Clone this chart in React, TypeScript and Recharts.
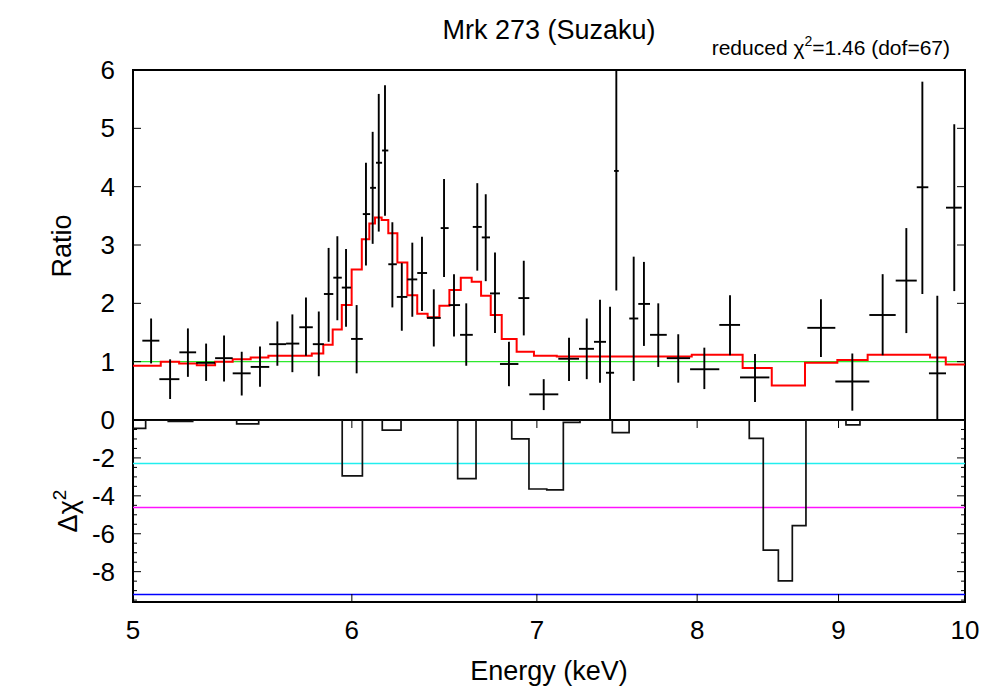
import React from 'react';
import { ComposedChart, Line, Scatter, ErrorBar, XAxis, YAxis, ReferenceLine, ReferenceArea } from 'recharts';

const FONT = '"Liberation Sans", Arial, Helvetica, sans-serif';

// spectrum ratio points: bin centre, bin edges, ratio and its 1-sigma range
const energy = [5.076, 5.157, 5.234, 5.314, 5.394, 5.474, 5.558, 5.639, 5.710, 5.775, 5.837, 5.885, 5.928, 5.971, 6.024, 6.071, 6.105, 6.136, 6.168, 6.206, 6.255, 6.310, 6.361, 6.424, 6.479, 6.533, 6.600, 6.661, 6.708, 6.760, 6.839, 6.924, 7.040, 7.190, 7.297, 7.378, 7.440, 7.479, 7.588, 7.653, 7.745, 7.875, 8.048, 8.222, 8.395, 8.869, 9.104, 9.337, 9.523, 9.651, 9.772, 9.911];
const energyLo = [5.039, 5.111, 5.197, 5.270, 5.354, 5.433, 5.515, 5.601, 5.680, 5.743, 5.808, 5.862, 5.908, 5.950, 5.996, 6.055, 6.092, 6.122, 6.153, 6.185, 6.229, 6.284, 6.336, 6.388, 6.461, 6.504, 6.566, 6.636, 6.686, 6.732, 6.788, 6.893, 6.956, 7.126, 7.250, 7.341, 7.415, 7.465, 7.560, 7.617, 7.692, 7.800, 7.953, 8.149, 8.291, 8.769, 8.976, 9.234, 9.439, 9.606, 9.704, 9.843];
const energyHi = [5.111, 5.197, 5.270, 5.354, 5.433, 5.515, 5.601, 5.680, 5.743, 5.808, 5.862, 5.908, 5.950, 5.996, 6.055, 6.092, 6.122, 6.153, 6.185, 6.229, 6.284, 6.336, 6.388, 6.461, 6.504, 6.566, 6.636, 6.686, 6.732, 6.788, 6.893, 6.956, 7.126, 7.250, 7.341, 7.415, 7.465, 7.494, 7.617, 7.692, 7.800, 7.953, 8.149, 8.291, 8.496, 8.976, 9.234, 9.439, 9.606, 9.699, 9.843, 9.973];
const ratio = [1.36, 0.70, 1.16, 0.98, 1.06, 0.80, 0.91, 1.30, 1.31, 1.59, 1.30, 2.16, 2.44, 2.27, 1.39, 3.53, 3.98, 4.41, 4.62, 2.67, 2.11, 2.41, 2.52, 1.75, 3.29, 1.97, 1.46, 3.31, 3.13, 2.17, 0.96, 2.09, 0.44, 1.05, 1.22, 1.34, 0.81, 4.27, 1.74, 1.99, 1.46, 1.06, 0.87, 1.63, 0.73, 1.58, 0.66, 1.80, 2.39, 3.99, 0.80, 3.64];
const ratioLo = [0.97, 0.36, 0.74, 0.67, 0.66, 0.42, 0.57, 0.93, 0.82, 1.10, 0.75, 1.34, 1.71, 1.60, 0.80, 2.65, 3.02, 3.23, 3.50, 1.93, 1.53, 1.77, 1.87, 1.26, 2.45, 1.43, 0.93, 2.56, 2.38, 1.49, 0.58, 1.45, 0.17, 0.67, 0.70, 0.64, 0.00, 2.22, 0.67, 1.27, 0.91, 0.64, 0.53, 1.11, 0.31, 1.08, 0.16, 1.11, 1.49, 2.16, 0.00, 2.21];
const ratioHi = [1.74, 1.04, 1.57, 1.31, 1.45, 1.17, 1.26, 1.69, 1.81, 2.10, 1.86, 2.95, 3.15, 2.93, 1.97, 4.41, 4.94, 5.59, 5.74, 3.39, 2.69, 3.04, 3.14, 2.24, 4.13, 2.50, 2.00, 4.06, 3.87, 2.87, 1.34, 2.73, 0.70, 1.41, 1.74, 2.06, 1.94, 6.00, 2.80, 2.71, 2.00, 1.47, 1.24, 2.14, 1.13, 2.07, 1.14, 2.50, 3.29, 5.80, 2.13, 5.07];

// model ratio, histogram steps (bin start energy, value)
const modelEdge = [5.000, 5.117, 5.196, 5.273, 5.354, 5.433, 5.515, 5.597, 5.803, 5.859, 5.905, 5.950, 5.999, 6.050, 6.088, 6.117, 6.151, 6.185, 6.232, 6.284, 6.336, 6.391, 6.454, 6.508, 6.570, 6.630, 6.682, 6.736, 6.798, 6.883, 6.983, 7.117, 7.964, 8.309, 8.513, 8.752, 8.991, 9.221, 9.713, 9.841];
const modelRatio = [0.93, 1.00, 0.97, 0.94, 1.00, 1.04, 1.07, 1.10, 1.14, 1.29, 1.55, 1.97, 2.58, 3.10, 3.37, 3.47, 3.43, 3.20, 2.70, 2.14, 1.82, 1.76, 1.96, 2.23, 2.44, 2.37, 2.13, 1.80, 1.39, 1.17, 1.10, 1.09, 1.12, 0.89, 0.59, 0.98, 1.03, 1.12, 1.07, 0.95];

// delta chi^2 histogram steps
const chiEdge = [5.000, 5.053, 5.149, 5.255, 5.451, 5.552, 5.952, 6.053, 6.154, 6.251, 6.553, 6.654, 6.855, 6.954, 7.058, 7.156, 7.256, 7.454, 7.559, 8.355, 8.453, 8.560, 8.660, 8.759, 9.056, 9.162];
const chiValue = [-0.44, 0, -0.08, 0, -0.2, 0, -2.95, 0, -0.53, 0, -3.09, 0, -1.0, -3.64, -3.69, -0.12, 0, -0.67, 0, -0.97, -6.86, -8.49, -5.57, 0, -0.26, 0];

const chiLevels = [-2.3, -4.61, -9.21];
const chiLevelColors = ['#22eeee', '#ff11ff', '#0000ff'];

const energyTicks = [5, 6, 7, 8, 9, 10];
const ratioTicks = [0, 1, 2, 3, 4, 5, 6];
const chiTicks = [-9.5, -9, -8.5, -8, -7.5, -7, -6.5, -6, -5.5, -5, -4.5, -4, -3.5, -3, -2.5, -2, -1.5, -1, -0.5, 0];

const points = energy.map((e, i) => ({
  x: e,
  y: ratio[i],
  ex: [e - energyLo[i], energyHi[i] - e],
  ey: [ratio[i] - ratioLo[i], ratioHi[i] - ratio[i]],
}));
const model = modelEdge.map((e, i) => ({ x: e, y: modelRatio[i] }));
model.push({ x: 10, y: modelRatio[modelRatio.length - 1] });
const chi = chiEdge.map((e, i) => ({ x: e, y: chiValue[i] }));
chi.push({ x: 10, y: 0 });

// frame geometry
const PL = 133;
const PR = 965;
const TOP = 70;
const MID = 420;
const BOT = 602;
const YW = 60;
const TICK_FS = 26;
const LABEL_FS = 27;

const TopXTick = (p: any) => {
  const { x, payload } = p;
  if (payload.value === 5 || payload.value === 10) return <g />;
  return (
    <g stroke="#000" strokeWidth={1}>
      <line x1={x} x2={x} y1={MID} y2={MID - 8} />
      <line x1={x} x2={x} y1={TOP} y2={TOP + 8} />
    </g>
  );
};

const BottomXTick = (p: any) => {
  const { x, payload } = p;
  const edge = payload.value === 5 || payload.value === 10;
  return (
    <g>
      {!edge && (
        <g stroke="#000" strokeWidth={1}>
          <line x1={x} x2={x} y1={MID} y2={MID + 8} />
          <line x1={x} x2={x} y1={BOT} y2={BOT - 8} />
        </g>
      )}
      <text x={x} y={BOT + 37} textAnchor="middle" fontSize={TICK_FS} fontFamily={FONT} fill="#000">
        {payload.value}
      </text>
    </g>
  );
};

const RatioTick = (p: any) => {
  const { y, payload } = p;
  const v = payload.value;
  if (v === 0) return <g />;
  const inner = v !== 6;
  return (
    <g>
      {inner && <line x1={PL} x2={PL + 8} y1={y} y2={y} stroke="#000" strokeWidth={1} />}
      {inner && <line x1={PR} x2={PR - 8} y1={y} y2={y} stroke="#000" strokeWidth={1} />}
      <text x={PL - 18} y={y + 9} textAnchor="end" fontSize={TICK_FS} fontFamily={FONT} fill="#000">{v}</text>
    </g>
  );
};

const ChiTick = (p: any) => {
  const { y, payload } = p;
  const v = payload.value;
  const major = v % 2 === 0;
  const len = major ? 8 : 4;
  return (
    <g>
      {v !== 0 && <line x1={PL} x2={PL + len} y1={y} y2={y} stroke="#000" strokeWidth={1} />}
      {v !== 0 && <line x1={PR} x2={PR - len} y1={y} y2={y} stroke="#000" strokeWidth={1} />}
      {major && (
        <text x={PL - 18} y={y + 9} textAnchor="end" fontSize={TICK_FS} fontFamily={FONT} fill="#000">{v}</text>
      )}
    </g>
  );
};

const NoPoint = () => <g />;

const App: React.FC = () => {
  return (
    <div style={{ position: 'absolute', left: 0, top: 0, width: 1000, height: 700, background: '#fff' }}>
      <div style={{ position: 'absolute', left: 0, top: 0 }}>
        <ComposedChart width={1000} height={MID} margin={{ top: TOP, right: 1000 - PR, bottom: 0, left: PL - YW }}>
          <XAxis
            dataKey="x"
            type="number"
            scale="log"
            domain={[5, 10]}
            allowDataOverflow
            ticks={energyTicks}
            interval={0}
            height={0}
            axisLine={false}
            tickLine={false}
            tickSize={0}
            tickMargin={0}
            tick={<TopXTick />}
          />
          <YAxis
            dataKey="y"
            type="number"
            domain={[0, 6]}
            allowDataOverflow
            ticks={ratioTicks}
            interval={0}
            width={YW}
            axisLine={false}
            tickLine={false}
            tickSize={0}
            tickMargin={0}
            tick={<RatioTick />}
          />
          <ReferenceLine y={1} stroke="#2ee82e" strokeWidth={1.2} />
          <Line
            data={model}
            dataKey="y"
            type="stepAfter"
            stroke="#ff0000"
            strokeWidth={2}
            dot={false}
            activeDot={false}
            isAnimationActive={false}
          />
          <Scatter data={points} dataKey="y" shape={<NoPoint />} isAnimationActive={false}>
            <ErrorBar dataKey="ex" direction="x" width={0} stroke="#000" strokeWidth={1.9} />
            <ErrorBar dataKey="ey" direction="y" width={0} stroke="#000" strokeWidth={1.9} />
          </Scatter>
          <ReferenceArea x1={5} x2={10} y1={0} y2={6} fill="none" stroke="#000" strokeWidth={2} />
        </ComposedChart>
      </div>
      <div style={{ position: 'absolute', left: 0, top: 0 }}>
        <ComposedChart width={1000} height={700} margin={{ top: MID, right: 1000 - PR, bottom: 0, left: PL - YW }}>
          <XAxis
            dataKey="x"
            type="number"
            scale="log"
            domain={[5, 10]}
            allowDataOverflow
            ticks={energyTicks}
            interval={0}
            height={700 - BOT}
            axisLine={false}
            tickLine={false}
            tickSize={0}
            tickMargin={0}
            tick={<BottomXTick />}
          />
          <YAxis
            dataKey="y"
            type="number"
            domain={[-9.6, 0]}
            allowDataOverflow
            ticks={chiTicks}
            interval={0}
            width={YW}
            axisLine={false}
            tickLine={false}
            tickSize={0}
            tickMargin={0}
            tick={<ChiTick />}
          />
          {chiLevels.map((lv, i) => (
            <ReferenceLine key={lv} y={lv} stroke={chiLevelColors[i]} strokeWidth={1.5} />
          ))}
          <Line
            data={chi}
            dataKey="y"
            type="stepAfter"
            stroke="#111"
            strokeWidth={1.7}
            dot={false}
            activeDot={false}
            isAnimationActive={false}
          />
          <ReferenceArea x1={5} x2={10} y1={-9.6} y2={0} fill="none" stroke="#000" strokeWidth={2} />
        </ComposedChart>
      </div>
      <svg
        width={1000}
        height={700}
        style={{ position: 'absolute', left: 0, top: 0, pointerEvents: 'none' }}
        fontFamily={FONT}
        fill="#000"
      >
        <text x={549} y={39} textAnchor="middle" fontSize={LABEL_FS}>Mrk 273 (Suzaku)</text>
        <text x={950} y={55} textAnchor="end" fontSize={21}>
          reduced χ<tspan dy={-9} fontSize={14}>2</tspan>
          <tspan dy={9}>=1.46 (dof=67)</tspan>
        </text>
        <text transform="translate(71,246) rotate(-90)" textAnchor="middle" fontSize={LABEL_FS}>Ratio</text>
        <text transform="translate(77,511) rotate(-90)" textAnchor="middle" fontSize={LABEL_FS}>
          Δχ<tspan dy={-11} fontSize={19}>2</tspan>
        </text>
        <text x={549} y={680} textAnchor="middle" fontSize={LABEL_FS}>Energy (keV)</text>
      </svg>
    </div>
  );
};

export default App;
